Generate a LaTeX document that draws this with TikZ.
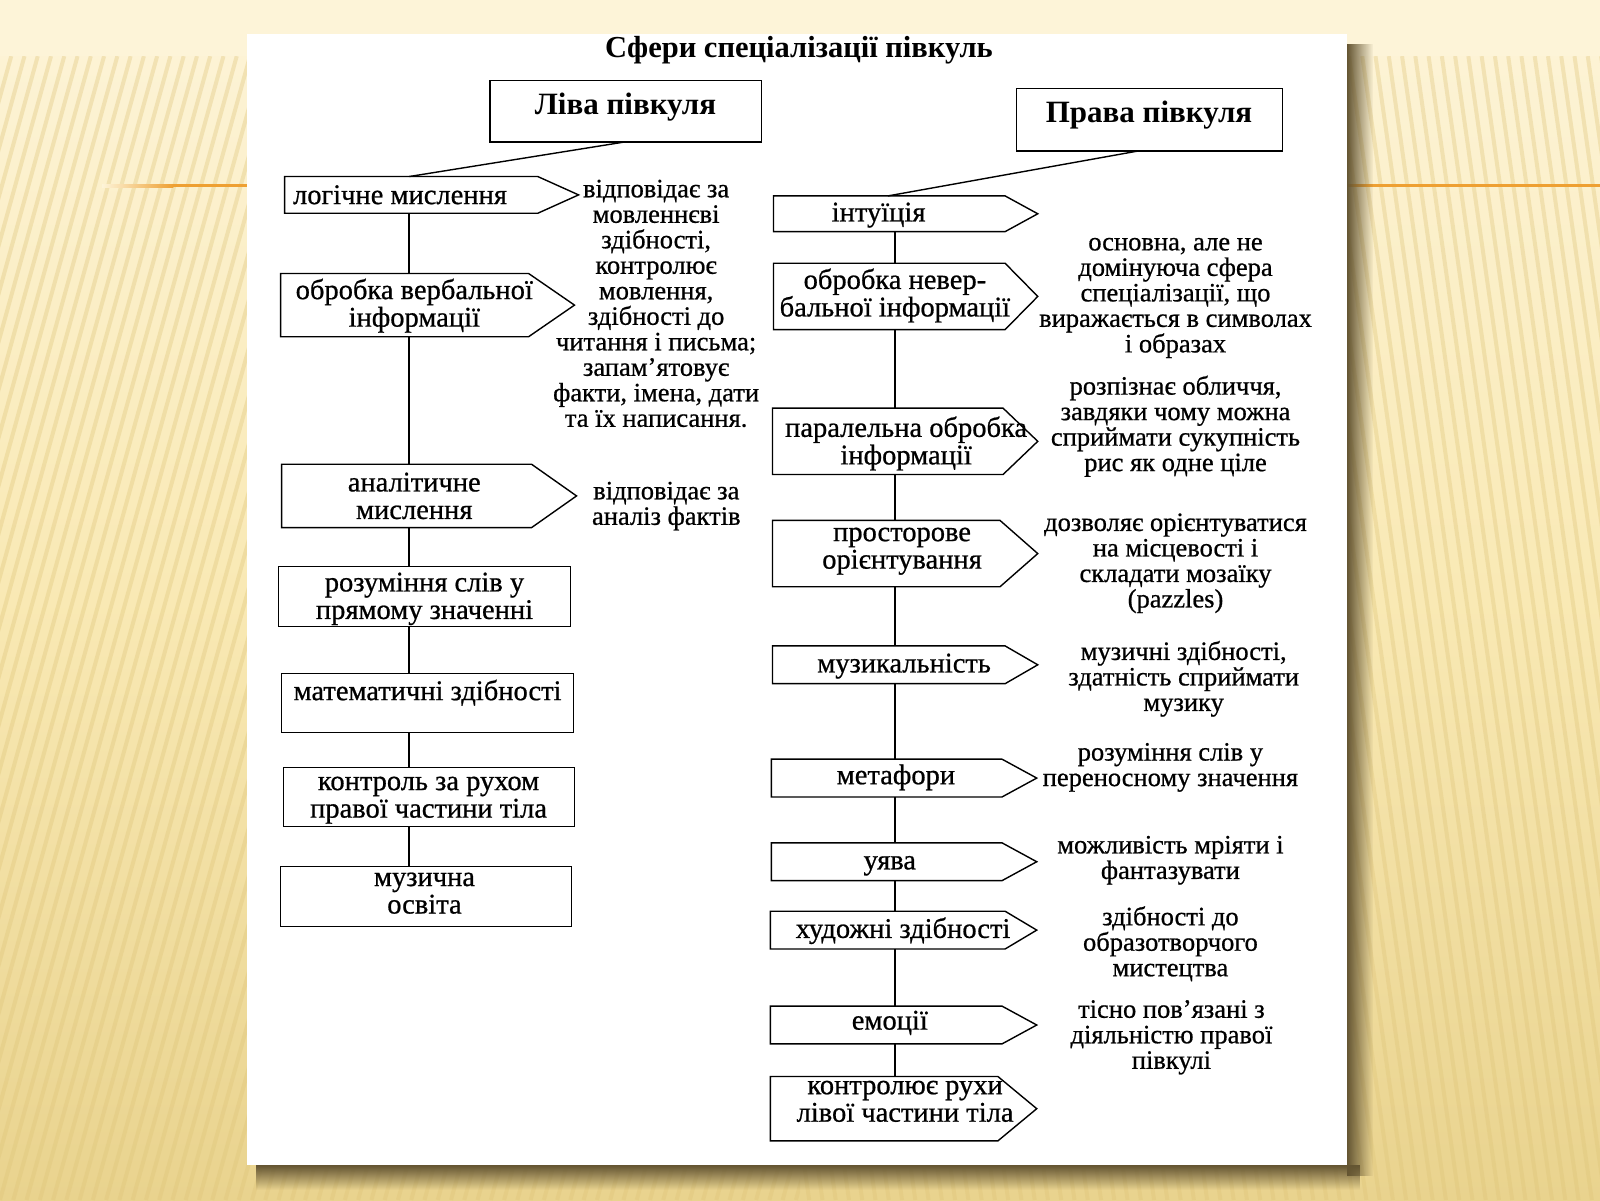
\documentclass[tikz,border=0pt]{standalone}
\usepackage{fontspec}
\setmainfont{Liberation Serif}
\newfontfamily\bodyff{Liberation Serif}[FakeBold=0.7]
\usetikzlibrary{calc,fadings}
\tikzfading[name=fadeR, left color=transparent!0, right color=transparent!100]
\tikzfading[name=fadeD, top color=transparent!0, bottom color=transparent!100]
\definecolor{bgtop}{RGB}{253,244,216}
\definecolor{bgmid}{RGB}{249,233,180}
\definecolor{bgbot}{RGB}{233,211,142}
\definecolor{stripec}{RGB}{222,196,120}
\definecolor{orangeline}{RGB}{238,160,50}
\definecolor{shadowc}{RGB}{100,85,50}
\newcommand\sigbox[6]{%
  \node[bodyn, minimum width={(#4-#2)*1.0204pt}, minimum height={(#5-#3)*1.0204pt}] (#1) at ({(#2+#4)/2},{(#3+#5)/2}) {};
  \draw[boxline] (#1.north east) -- (#1.north west) -- (#1.south west) -- (#1.south east) -- ([xshift={(#6-#4)*1.0204pt}]#1.east) -- cycle;}
\newcommand\rectbox[5]{%
  \node[bodyn, boxline, draw, minimum width={(#4-#2)*1.0204pt}, minimum height={(#5-#3)*1.0204pt}] (#1) at ({(#2+#4)/2},{(#3+#5)/2}) {};}
\newcommand\annfont{\bodyff\fontsize{26.5}{25.5}\selectfont}
\newcommand\boxfont{\bodyff\fontsize{28.5}{27.5}\selectfont}
\newcommand\titlefont{\fontsize{30.5}{30}\selectfont\bfseries}
\newcommand\headfont{\fontsize{31}{30}\selectfont\bfseries}
\begin{document}
\normallineskiplimit=-40pt
\lineskiplimit=-40pt
\begin{tikzpicture}[x=1.0204pt,y=-1.0204pt,
  bodyn/.style={inner sep=0pt, outer sep=0pt},
  boxline/.style={black, line width=1.4pt, line join=miter},
  conn/.style={black, line width=1.4pt},
  txt/.style={anchor=north, align=center, inner sep=0pt, yshift=-3pt, font=\annfont, execute at begin node=\strut},
  ltxt/.style={txt, font=\boxfont},
  btxt/.style={txt, font=\headfont},
  ttxt/.style={txt, font=\titlefont}]
\useasboundingbox (0,0) rectangle (1568,1176);
% background
\shade[top color=bgtop, bottom color=bgbot, middle color=bgmid] (0,0) rectangle (1568,1176);
\fill[bgtop] (0,0) rectangle (1568,55);
\begin{scope}
  \clip (0,55) rectangle (784,1176);
  \foreach \i in {-30,...,70} {\draw[stripec, line width=4pt, opacity=0.35] ({\i*13},1176) -- ({\i*13+310},55);}
\end{scope}
\begin{scope}
  \clip (784,55) rectangle (1568,1176);
  \foreach \i in {55,...,135} {\draw[stripec, line width=4pt, opacity=0.35] ({\i*13},1176) -- ({\i*13-160},55);}
\end{scope}
% orange rule
\shade[left color=bgtop, right color=orangeline] (100,180.5) rectangle (170,183.5);
\fill[orangeline] (170,180.5) rectangle (242,183.5);
\fill[orangeline] (1320,180.5) rectangle (1568,183.5);
% shadow and panel
\fill[shadowc, path fading=fadeR] (1320,42) rectangle (1346,1152);
\fill[shadowc, path fading=fadeD] (252,1142) rectangle (1336,1166);
\fill[white] (242,33) rectangle (1320,1142);
% title
\node[ttxt] (title) at (783,32) {Сфери спеціалізації півкуль};
% headers
\rectbox{lh}{480}{79}{746}{139}
\node[btxt] (lht) at (613,88) {Ліва півкуля};
\rectbox{ph}{996}{87}{1257}{148}
\node[btxt] (pht) at (1126,96) {Права півкуля};
% left column
\sigbox{l1}{279}{173}{527}{209}{567}
\node[ltxt] (l1t) at (392,178) {логічне мислення};
\sigbox{l2}{275}{268}{518}{330}{563}
\node[ltxt] (l2t) at (406,270) {обробка вербальної\\інформації};
\sigbox{l3}{276}{455}{521}{517}{565}
\node[ltxt] (l3t) at (406,460) {аналітичне\\мислення};
\rectbox{l4}{273}{555}{559}{614}
\node[ltxt] (l4t) at (416,558) {розуміння слів у\\прямому значенні};
\rectbox{l5}{276}{660}{562}{718}
\node[ltxt] (l5t) at (419,663) {математичні здібності};
\rectbox{l6}{278}{752}{563}{810}
\node[ltxt] (l6t) at (420,758) {контроль за рухом\\правої частини тіла};
\rectbox{l7}{275}{849}{560}{908}
\node[ltxt] (l7t) at (416,852) {музична\\освіта};
% left annotations
\node[txt] (a1) at (643,173) {відповідає за\\мовленнєві\\здібності,\\контролює\\мовлення,\\здібності до\\читання і письма;\\запам’ятовує\\факти, імена, дати\\та їх написання.};
\node[txt] (a2) at (653,469) {відповідає за\\аналіз фактів};
% right column
\sigbox{r1}{758}{192}{985}{227}{1017}
\node[ltxt] (r1t) at (861,195) {інтуїція};
\sigbox{r2}{758}{258}{985}{323}{1017}
\node[ltxt] (r2t) at (877,260) {обробка невер-\\бальної інформації};
\sigbox{r3}{757}{400}{983}{465}{1017}
\node[ltxt] (r3t) at (888,405) {паралельна обробка\\інформації};
\sigbox{r4}{757}{510}{980}{575}{1017}
\node[ltxt] (r4t) at (884,514) {просторове\\орієнтування};
\sigbox{r5}{757}{633}{985}{670}{1017}
\node[ltxt] (r5t) at (886,637) {музикальність};
\sigbox{r6}{756}{744}{982}{781}{1016}
\node[ltxt] (r6t) at (878,746) {метафори};
\sigbox{r7}{756}{826}{982}{863}{1016}
\node[ltxt] (r7t) at (872,830) {уява};
\sigbox{r8}{755}{893}{985}{930}{1016}
\node[ltxt] (r8t) at (885,896) {художні здібності};
\sigbox{r9}{755}{986}{982}{1023}{1016}
\node[ltxt] (r9t) at (872,987) {емоції};
\sigbox{r10}{755}{1055}{978}{1118}{1016}
\node[ltxt] (r10t) at (887,1056) {контролює рухи\\лівої частини тіла};
% right annotations
\node[txt] (b1) at (1152,230) {основна, але не\\домінуюча сфера\\спеціалізації, що\\виражається в символах\\і образах};
\node[txt] (b2) at (1152,365) {розпізнає обличчя,\\завдяки чому можна\\сприймати сукупність\\рис як одне ціле};
\node[txt] (b3) at (1152,500) {дозволяє орієнтуватися\\на місцевості і\\складати мозаїку\\(pazzles)};
\node[txt] (b4) at (1160,625) {музичні здібності,\\здатність сприймати\\музику};
\node[txt] (b5) at (1147,725) {розуміння слів у\\переносному значення};
\node[txt] (b6) at (1147,816) {можливість мріяти і\\фантазувати};
\node[txt] (b7) at (1147,885) {здібності до\\образотворчого\\мистецтва};
\node[txt] (b8) at (1148,977) {тісно пов’язані з\\діяльністю правої\\півкулі};
% connectors
\coordinate (lx) at (401,0);
\coordinate (rx) at (877,0);
\draw[conn] (lh.south) -- (l1.north -| lx);
\draw[conn] ([xshift=-11.5pt]ph.south) -- ([xshift=-7pt]r1.north -| rx);
\foreach \a/\b in {l1/l2,l2/l3,l3/l4,l4/l5,l5/l6,l6/l7} {\draw[conn] (\a.south -| lx) -- (\b.north -| lx);}
\foreach \a/\b in {r1/r2,r2/r3,r3/r4,r4/r5,r5/r6,r6/r7,r7/r8,r8/r9,r9/r10} {\draw[conn] (\a.south -| rx) -- (\b.north -| rx);}
\end{tikzpicture}
\end{document}
